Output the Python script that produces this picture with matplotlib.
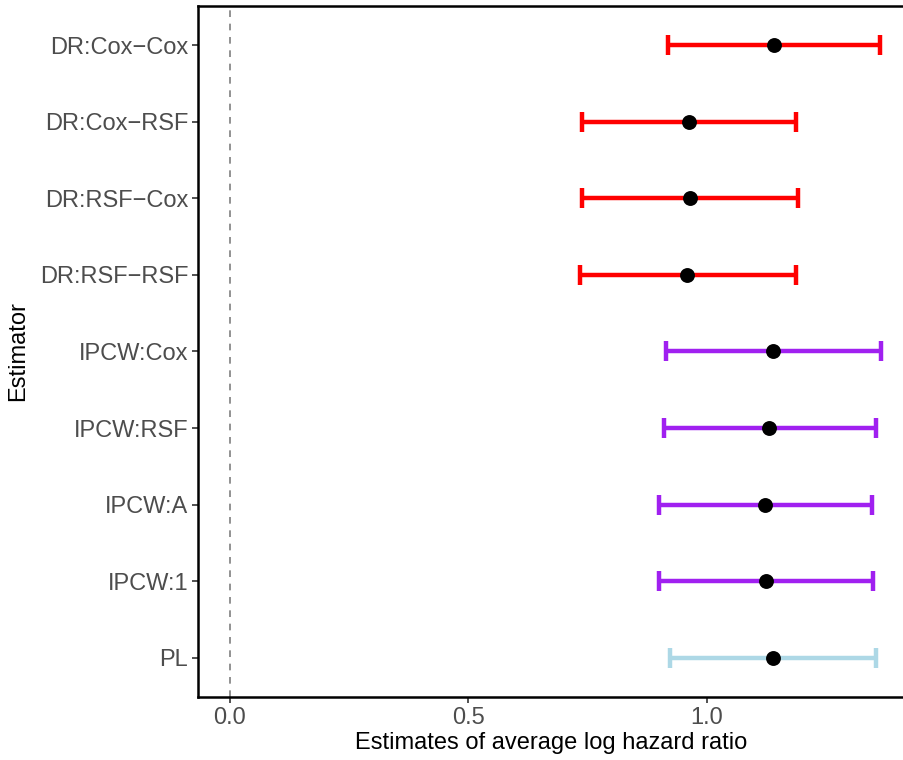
import matplotlib
matplotlib.use("Agg")
import matplotlib.pyplot as plt

estimators = ["DR:Cox\u2212Cox", "DR:Cox\u2212RSF", "DR:RSF\u2212Cox", "DR:RSF\u2212RSF",
              "IPCW:Cox", "IPCW:RSF", "IPCW:A", "IPCW:1", "PL"]
estimates = [1.140, 0.962, 0.964, 0.958, 1.138, 1.130, 1.122, 1.124, 1.138]
lower = [0.918, 0.737, 0.737, 0.733, 0.914, 0.910, 0.899, 0.899, 0.922]
upper = [1.363, 1.187, 1.191, 1.187, 1.365, 1.354, 1.346, 1.348, 1.354]
groups = ["DR", "DR", "DR", "DR", "IPCW", "IPCW", "IPCW", "IPCW", "PL"]
group_colors = {"DR": "#FF0000", "IPCW": "#A020F0", "PL": "#ADD8E6"}
xticks = [0.0, 0.5, 1.0]

plt.rcParams['font.family'] = ['Liberation Sans', 'DejaVu Sans']

fig = plt.figure(figsize=(9.04, 7.6), dpi=100)
W, H = 904, 760
ax = fig.add_axes([198 / W, 1 - 697 / H, (904 - 198) / W, (697 - 6) / H])

ax.axvline(0, color="#7F7F7F", linestyle=(0, (4, 4)), linewidth=1.2, zorder=1)

ypos = list(range(1, len(estimators) + 1))
for y, est, lo, hi, g in zip(ypos, estimates, lower, upper, groups):
    c = group_colors[g]
    ax.errorbar([est], [y], xerr=[[est - lo], [hi - est]], fmt='none', ecolor=c,
                elinewidth=3.2, capsize=7.5, capthick=3.2, zorder=2)
ax.scatter(estimates, ypos, s=115, color="black", zorder=3, linewidths=0)

ax.set_xlim(-0.067, 1.413)
ax.set_ylim(len(estimators) + 0.51, 0.49)
ax.set_yticks(ypos)
ax.set_yticklabels(estimators)
ax.set_xticks(xticks)
ax.set_xticklabels([f"{v:.1f}" for v in xticks])

for s in ["left", "bottom", "top"]:
    ax.spines[s].set_linewidth(1.8)
    ax.spines[s].set_color("black")
ax.spines["right"].set_visible(False)

ax.tick_params(axis='both', colors="#333333", labelcolor="#4D4D4D", labelsize=17,
               length=4, width=1.2, pad=3)
ax.set_xlabel("Estimates of average log hazard ratio", fontsize=17, color="black", labelpad=2)
ax.set_ylabel("Estimator", fontsize=17, color="black", labelpad=8)

fig.savefig("out.png", dpi=100)
